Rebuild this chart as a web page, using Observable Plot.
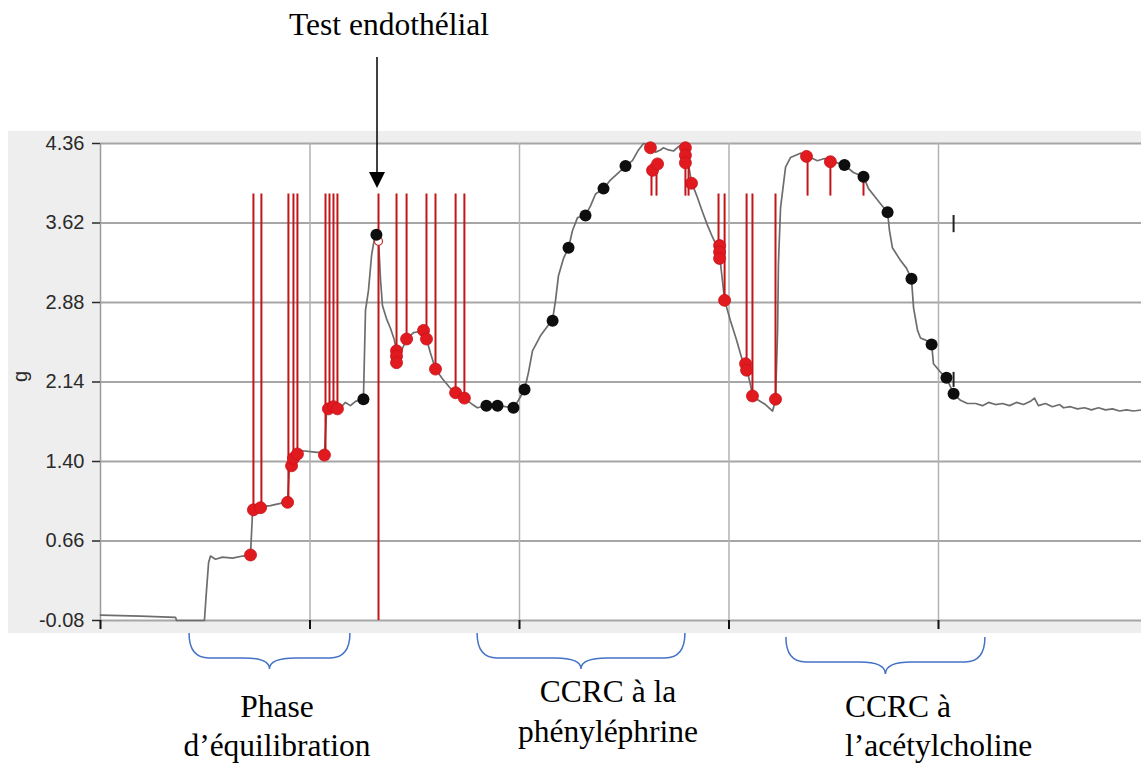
<!DOCTYPE html>
<html><head><meta charset="utf-8">
<script src="https://cdn.jsdelivr.net/npm/d3@7"></script>
<script src="https://cdn.jsdelivr.net/npm/@observablehq/plot@0.6"></script>
<style>
html,body{margin:0;padding:0;background:#fff;}
#chart{position:relative;width:1141px;height:765px;overflow:hidden;}
</style></head><body><div id="chart"></div>
<script>
// ---- data (time in min, tension in g) ----
const yTicks = [-0.08, 0.66, 1.40, 2.14, 2.88, 3.62, 4.36];
const xTicks = [0, 10, 20, 30, 40];
const xMax = 49.69;

const traceTime = [
  0.00,1.91,3.58,3.63,4.96,5.06,5.16,5.25,5.49,5.82,
  6.30,6.78,7.16,7.26,7.45,7.73,8.11,8.59,8.93,9.02,
  9.21,9.40,9.64,10.12,10.60,10.69,10.79,11.12,11.46,11.69,
  11.93,12.17,12.55,12.65,12.79,12.94,13.08,13.17,13.27,13.37,
  13.46,13.65,13.84,14.03,14.18,14.32,14.61,14.94,15.27,15.42,
  15.56,15.75,15.99,16.32,16.71,16.95,17.37,17.76,17.99,18.42,
  18.95,19.33,19.71,19.95,20.24,20.43,20.62,21.00,21.38,21.58,
  21.72,21.86,22.10,22.34,22.53,22.77,23.15,23.39,23.63,24.01,
  24.34,24.73,25.06,25.39,25.68,25.92,26.11,26.25,26.49,26.73,
  26.87,27.11,27.35,27.59,27.83,27.97,28.07,28.21,28.45,28.74,
  28.97,29.21,29.45,29.55,29.69,29.79,30.07,30.36,30.64,30.84,
  31.03,31.12,31.41,31.74,32.08,32.22,32.32,32.36,32.46,32.70,
  32.94,33.41,33.70,33.99,34.22,34.56,34.84,35.18,35.51,35.94,
  36.42,36.66,36.90,37.23,37.57,37.66,37.80,38.19,38.47,38.71,
  38.81,39.00,39.14,39.38,39.67,39.76,40.10,40.38,40.72,41.05,
  41.38,41.77,42.10,42.39,42.72,43.05,43.39,43.72,44.06,44.39,
  44.58,44.77,45.11,45.44,45.78,45.97,46.30,46.63,46.97,47.30,
  47.64,47.97,48.31,48.64,48.97,49.31,49.69
];
const traceTension = [
  -0.03,-0.04,-0.05,-0.08,-0.08,0.20,0.46,0.52,0.49,0.51,
  0.50,0.52,0.53,0.94,0.97,0.98,0.99,1.01,1.03,1.36,
  1.43,1.48,1.50,1.49,1.48,1.46,1.87,1.91,1.90,1.95,
  1.92,1.96,1.98,2.81,2.99,3.32,3.48,3.52,3.46,3.08,
  2.85,2.73,2.64,2.53,2.36,2.41,2.54,2.60,2.61,2.62,
  2.54,2.41,2.26,2.17,2.08,2.03,1.99,1.93,1.90,1.92,
  1.92,1.91,1.90,1.97,2.07,2.23,2.43,2.57,2.67,2.72,
  2.90,3.13,3.29,3.39,3.55,3.67,3.69,3.78,3.89,3.94,
  4.02,4.09,4.15,4.20,4.30,4.36,4.35,4.32,4.28,4.30,
  4.32,4.30,4.29,4.33,4.36,4.32,4.16,4.00,3.88,3.72,
  3.60,3.49,3.39,3.32,3.08,2.90,2.71,2.53,2.34,2.27,
  2.11,2.01,1.97,1.93,1.87,1.97,2.62,3.24,3.76,4.14,
  4.23,4.27,4.24,4.22,4.20,4.22,4.19,4.18,4.16,4.09,
  4.05,3.94,3.88,3.80,3.72,3.55,3.39,3.27,3.20,3.10,
  2.83,2.62,2.55,2.53,2.50,2.31,2.23,2.18,2.03,1.97,
  1.94,1.94,1.92,1.95,1.93,1.94,1.92,1.95,1.93,1.96,
  1.99,1.92,1.94,1.91,1.93,1.90,1.91,1.89,1.90,1.88,
  1.90,1.88,1.89,1.87,1.88,1.87,1.88
];

// drug additions (long red markers): time, tension where the marker meets the trace
const markerTop = 3.89;
const eventTime = [7.30,7.68,8.97,9.21,9.40,10.74,10.93,11.12,11.31,13.27,14.13,14.61,15.56,15.99,16.95,17.37,29.50,29.79,30.84,31.12,32.22];
const eventTension = [0.94,0.98,1.03,1.43,1.48,1.46,1.87,1.91,1.90,-0.08,2.32,2.54,2.54,2.26,2.03,1.99,3.32,2.90,2.27,2.01,1.97];

// short red markers near the plateaus
const shortBottom = 3.87;
const shortTime = [26.30,26.54,27.92,28.07,33.75,34.84,36.42];
const shortTop = [4.17,4.17,4.36,4.32,4.24,4.19,4.05];

// red points
const redTime = [7.16,7.30,7.64,8.93,9.12,9.21,9.40,10.69,10.88,11.12,11.31,14.13,14.13,14.13,14.61,15.42,15.56,15.99,16.95,17.37,26.25,26.35,26.59,27.92,27.92,27.92,28.21,29.55,29.55,29.55,29.79,30.79,30.84,31.12,32.22,33.70,34.84];
const redTension = [0.53,0.95,0.97,1.02,1.36,1.43,1.47,1.46,1.89,1.91,1.89,2.43,2.38,2.32,2.54,2.62,2.54,2.26,2.04,1.99,4.32,4.11,4.17,4.32,4.25,4.18,3.99,3.41,3.35,3.29,2.90,2.31,2.25,2.01,1.98,4.24,4.19];

// black points
const blackTime = [12.55,13.17,18.42,18.95,19.71,20.24,21.58,22.34,23.15,24.01,25.06,35.51,36.42,37.57,38.71,39.67,40.38,40.72];
const blackTension = [1.98,3.51,1.92,1.92,1.90,2.07,2.71,3.39,3.69,3.94,4.15,4.16,4.05,3.72,3.10,2.49,2.18,2.03];

// small black ticks
const tickMarkTime = [40.72, 40.72];
const tickMarkTop = [3.69, 2.23];
const tickMarkBottom = [3.53, 2.09];

// annotations
const endoTestTime = 13.27;
const phaseStart = [4.25, 18.0, 32.74];
const phaseEnd = [11.93, 27.92, 42.24];
const phaseLabels = [["Phase", "d’équilibration"], ["CCRC à la", "phényléphrine"], ["CCRC à", "l’acétylcholine"]];
const endoLabel = "Test endothélial";

// ---- tables ----
const trace = traceTime.map((t, i) => ({t, g: traceTension[i]}));
const events = eventTime.map((t, i) => ({t, g: eventTension[i], top: markerTop}));
const shorts = shortTime.map((t, i) => ({t, top: shortTop[i], bottom: shortBottom}));
const reds = redTime.map((t, i) => ({t, g: redTension[i]}));
const blacks = blackTime.map((t, i) => ({t, g: blackTension[i]}));
const tickMarks = tickMarkTime.map((t, i) => ({t, top: tickMarkTop[i], bottom: tickMarkBottom[i]}));
const openPt = [{t: endoTestTime, g: 3.45}];

const plot = Plot.plot({
  width: 1141, height: 765,
  marginLeft: 100, marginRight: 0, marginTop: 143, marginBottom: 145,
  style: {fontFamily: "'Liberation Sans', Arial, sans-serif", background: "transparent", overflow: "visible"},
  x: {domain: [0, xMax], axis: null},
  y: {domain: [-0.08, 4.36], axis: null},
  marks: [
    Plot.frame({fill: "white", stroke: "none"}),
    Plot.ruleY(yTicks, {stroke: "#a6a6a6", strokeWidth: 2}),
    Plot.ruleX(xTicks.slice(1), {stroke: "#b3b3b3", strokeWidth: 1.5}),
    Plot.ruleX([0], {stroke: "#9c9c9c", strokeWidth: 1.5}),
    Plot.axisY({ticks: yTicks, tickFormat: d => d.toFixed(2), tickSize: 8, tickPadding: 8, fontSize: 20, color: "#2a2a2a", strokeWidth: 1.5, label: null}),
    Plot.axisX({ticks: xTicks, tickFormat: () => "", tickSize: 9, stroke: "#111", strokeWidth: 2, label: null}),
    Plot.text(["g"], {frameAnchor: "left", dx: -80, rotate: -90, fontSize: 20, fill: "#2a2a2a"}),
    Plot.line(trace, {x: "t", y: "g", stroke: "#6d6d6d", strokeWidth: 1.7}),
    Plot.ruleX(events, {x: "t", y1: "top", y2: "g", stroke: "#c2161a", strokeWidth: 2}),
    Plot.ruleX(shorts, {x: "t", y1: "top", y2: "bottom", stroke: "#c2161a", strokeWidth: 2}),
    Plot.ruleX(tickMarks, {x: "t", y1: "top", y2: "bottom", stroke: "#222", strokeWidth: 2}),
    Plot.dot(openPt, {x: "t", y: "g", r: 4, stroke: "#c03030", fill: "white", strokeWidth: 1.2}),
    Plot.dot(reds, {x: "t", y: "g", r: 6, fill: "#e01a1e", stroke: "#c8121a", strokeWidth: 0.8}),
    Plot.dot(blacks, {x: "t", y: "g", r: 6, fill: "#0e0e0e"})
  ]
});

document.getElementById("chart").appendChild(plot);
const svg = d3.select(plot);
const xs = plot.scale("x");
const X = v => xs.apply(v);

// grey software-window background behind the plot area
svg.insert("rect", ":first-child").attr("x", 8).attr("y", 131).attr("width", 1133).attr("height", 502).attr("fill", "#eeeeee");

const serif = "'Liberation Serif', 'Times New Roman', serif";
const ann = svg.append("g");

// arrow to the endothelial test
const ax = X(endoTestTime) - 1;
ann.append("line").attr("x1", ax).attr("x2", ax).attr("y1", 57).attr("y2", 176).attr("stroke", "#000").attr("stroke-width", 1.5);
ann.append("path").attr("d", `M${ax-8},172 L${ax+8},172 L${ax},188 Z`).attr("fill", "#000");
ann.append("text").attr("x", ax + 12).attr("y", 35).attr("text-anchor", "middle")
  .attr("font-family", serif).attr("font-size", 31.5).attr("fill", "#000").text(endoLabel);

// braces
function brace(x0, x1, yTop, yMid, yTip) {
  const xc = (x0 + x1) / 2, qe = 20, qm = 26;
  return `M${x0},${yTop} Q${x0},${yMid} ${x0+qe},${yMid} L${xc-qm},${yMid} Q${xc},${yMid} ${xc},${yTip} ` +
         `Q${xc},${yMid} ${xc+qm},${yMid} L${x1-qe},${yMid} Q${x1},${yMid} ${x1},${yTop}`;
}
const braceY = [[633, 658, 669], [633, 658, 669], [637, 662, 674]];
phaseStart.forEach((s, i) => {
  const [a, b, c] = braceY[i];
  ann.append("path").attr("d", brace(X(s), X(phaseEnd[i]), a, b, c))
    .attr("fill", "none").attr("stroke", "#4472c4").attr("stroke-width", 1.5);
});

// phase labels
const labelPos = [
  {x: 277, anchor: "middle", y: [717, 756]},
  {x: 608, anchor: "middle", y: [702, 742]},
  {x: 845, anchor: "start", y: [717, 756]}
];
phaseLabels.forEach((lines, i) => {
  const p = labelPos[i];
  lines.forEach((s, j) => {
    ann.append("text").attr("x", p.x).attr("y", p.y[j]).attr("text-anchor", p.anchor)
      .attr("font-family", serif).attr("font-size", 31.5).attr("fill", "#000").text(s);
  });
});
</script></body></html>
